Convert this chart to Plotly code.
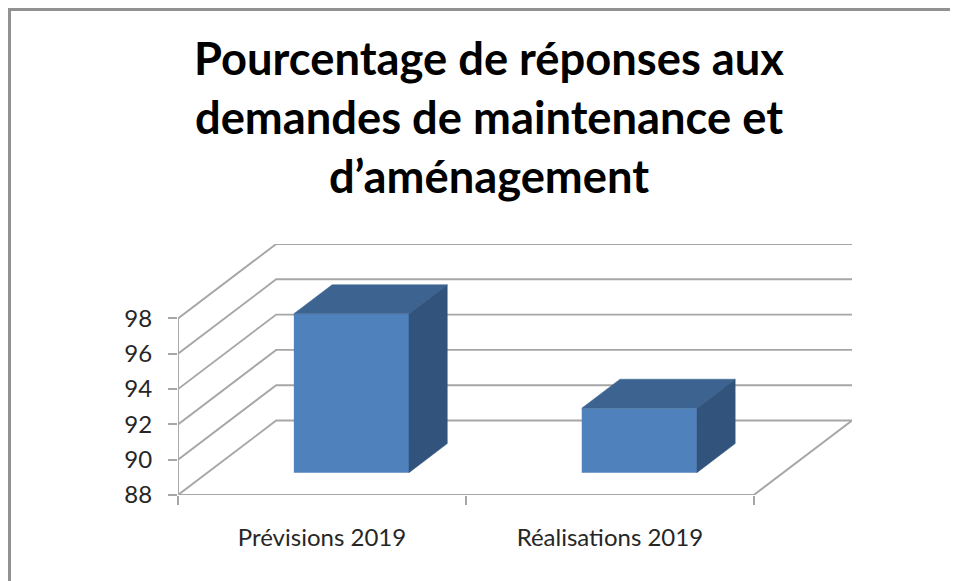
import plotly.graph_objects as go

categories = ["Prévisions 2019", "Réalisations 2019"]
values = [97.0, 91.65]
y_ticks = [88, 90, 92, 94, 96, 98]
title_lines = ["Pourcentage de réponses aux", "demandes de maintenance et", "d’aménagement"]

# oblique projection of the depth axis, in axis units per full depth
DEPTH_X = 0.341
DEPTH_Y = 4.22
BAR_WIDTH = 0.40
BAR_DEPTH_START = 0.30
BAR_DEPTH_END = 0.69
Y_BASE = y_ticks[0]
GRID = "#A6A6A6"

def project(x, v, d):
    return x + d * DEPTH_X, v + d * DEPTH_Y

def line_trace(points, width=1.9):
    pts = [project(*p) for p in points]
    return go.Scatter(x=[p[0] for p in pts], y=[p[1] for p in pts], mode="lines",
                      line=dict(color=GRID, width=width), cliponaxis=False,
                      hoverinfo="skip", showlegend=False, xaxis="x", yaxis="y")

def face_trace(points, color):
    pts = [project(*p) for p in points]
    return go.Scatter(x=[p[0] for p in pts], y=[p[1] for p in pts], mode="lines", fill="toself",
                      fillcolor=color, line=dict(color=color, width=0.5), cliponaxis=False,
                      hoverinfo="skip", showlegend=False, xaxis="x2", yaxis="y2")

n = len(categories)
fig = go.Figure()

# walls and floor
for v in y_ticks:
    fig.add_trace(line_trace([(0, v, 0), (0, v, 1), (n, v, 1)]))
fig.add_trace(line_trace([(0, Y_BASE, 0), (n, Y_BASE, 0), (n, Y_BASE, 1)]))
fig.add_trace(line_trace([(0, Y_BASE, 0), (0, y_ticks[-1], 0)]))

# bars: front faces through a real bar trace, top and side as projected faces
cx = [i + 0.5 for i in range(n)]
front = [project(c, Y_BASE, BAR_DEPTH_START) for c in cx]
fig.add_trace(go.Bar(x=[p[0] for p in front], y=[v - Y_BASE for v in values],
                     base=[p[1] for p in front], width=BAR_WIDTH,
                     marker=dict(color="#4F81BD", line=dict(width=0)),
                     showlegend=False, xaxis="x2", yaxis="y2"))
for c, v in zip(cx, values):
    l, r = c - BAR_WIDTH / 2, c + BAR_WIDTH / 2
    a, b = BAR_DEPTH_START, BAR_DEPTH_END
    fig.add_trace(face_trace([(l, v, a), (r, v, a), (r, v, b), (l, v, b), (l, v, a)], "#3D6391"))
    fig.add_trace(face_trace([(r, Y_BASE, a), (r, v, a), (r, v, b), (r, Y_BASE, b), (r, Y_BASE, a)], "#32547C"))

x_range = [0, n + DEPTH_X]
y_range = [Y_BASE, y_ticks[-1] + DEPTH_Y]
font = "Lato, Carlito, sans-serif"

FIG_W, FIG_H = 950, 573
ML, MR, MT, MB = 170, 106, 236, 86
PW, PH = FIG_W - ML - MR, FIG_H - MT - MB
frame_x = (1.5 - ML) / PW
frame_y = (PH + MT - 1.5) / PH

fig.update_layout(
    width=FIG_W, height=FIG_H,
    margin=dict(l=ML, r=MR, t=MT, b=MB),
    paper_bgcolor="white", plot_bgcolor="white",
    showlegend=False, barmode="overlay",
    title=dict(text="<br>".join(title_lines), x=481 / FIG_W, xanchor="center",
               y=1 - 67 / FIG_H, yanchor="top",
               font=dict(family=font, size=45.3, color="black", weight="bold")),
    xaxis=dict(range=x_range, showgrid=False, zeroline=False, showline=False,
               tickmode="array", tickvals=cx, ticktext=categories, ticks="",
               ticklabelstandoff=26,
               tickfont=dict(family=font, size=24, color="#262626"),
               minor=dict(tickmode="array", tickvals=list(range(n + 1)), ticks="outside",
                          ticklen=9, tickwidth=1.9, tickcolor=GRID, showgrid=False)),
    yaxis=dict(range=y_range, showgrid=False, zeroline=False, showline=False,
               tickmode="array", tickvals=y_ticks, ticks="outside", ticklen=9,
               tickwidth=1.9, tickcolor=GRID, ticklabelstandoff=11,
               tickfont=dict(family=font, size=24, color="#262626")),
    xaxis2=dict(range=x_range, overlaying="x", visible=False),
    yaxis2=dict(range=y_range, overlaying="y", visible=False),
    shapes=[dict(type="path", xref="paper", yref="paper",
                 path=f"M {frame_x:.4f},-0.5 L {frame_x:.4f},{frame_y:.4f} L 1.3,{frame_y:.4f}",
                 line=dict(color="#929292", width=3))],
)

fig.write_html("out.html")
